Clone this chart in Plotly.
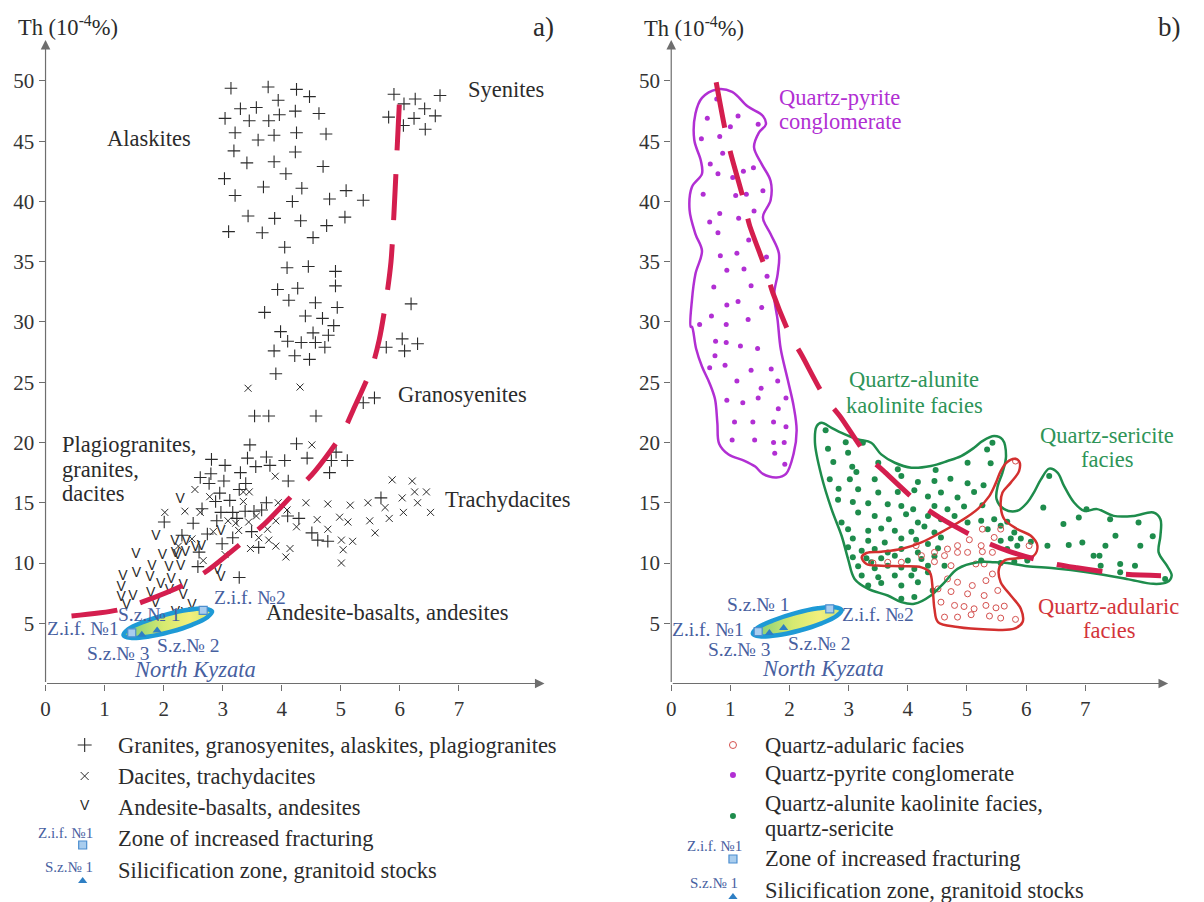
import plotly.graph_objects as go

# ---------------- Panel a data ----------------
granite_K = [3.14, 3.77, 4.25, 4.47, 3.94, 3.30, 3.57, 3.96, 4.23, 4.63, 3.04, 3.45, 3.78, 3.21, 3.60, 3.87, 4.25, 4.75,
             3.19, 4.23, 3.41, 3.87, 4.70, 4.07, 3.03, 3.69, 4.34, 5.09, 3.21, 4.18, 4.81, 5.38, 3.43, 3.88, 4.32, 5.07,
             4.76, 3.10, 3.67, 4.53, 4.05, 4.09, 4.45, 4.91, 3.93, 4.27, 4.91, 4.12, 4.57, 4.94, 3.71, 4.40, 4.69, 4.88,
             3.98, 4.53, 4.79, 4.10, 4.33, 4.57, 4.73,
             5.90, 6.07, 6.26, 6.68, 6.42, 5.81, 6.24, 6.60, 6.06, 6.43,
             6.19, 6.04, 6.30, 5.77,
             3.87, 4.22, 4.47, 6.08, 3.90, 5.38, 5.57, 3.54, 3.78, 4.58, 3.46, 4.25, 4.92, 4.84, 5.11, 4.81, 2.81, 3.04,
             3.42, 3.56, 3.74, 3.80, 4.05, 4.43, 2.62, 2.80, 3.30, 2.77, 3.02, 3.39, 3.28, 4.11, 2.95, 3.12, 2.88, 3.74,
             2.65, 2.97, 3.17, 3.38, 3.53, 3.66, 4.10, 4.29, 2.50, 2.90, 3.24, 2.01, 2.31, 2.74, 3.49, 4.51, 4.61, 4.78,
             2.99, 3.17, 2.60, 3.61, 2.58, 3.28, 5.68]
granite_Th = [49.4, 49.5, 49.3, 48.7, 48.4, 47.7, 47.8, 47.2, 47.5, 47.3, 46.9, 46.7, 46.7, 45.7, 45.1, 45.5, 45.7, 45.6,
              44.2, 44.1, 43.2, 43.3, 42.9, 42.3, 41.9, 41.2, 41.1, 40.9, 40.5, 40.0, 40.2, 40.1, 38.8, 38.6, 38.4, 38.7,
              38.0, 37.5, 37.4, 37.0, 36.2, 34.5, 34.6, 34.2, 32.7, 32.8, 33.0, 31.8, 31.6, 31.2, 30.8, 30.5, 30.3, 29.7,
              29.2, 29.1, 28.9, 28.4, 28.3, 28.3, 27.9,
              48.9, 48.1, 48.5, 48.8, 47.7, 47.0, 46.9, 47.1, 46.3, 46.0,
              31.5, 28.6, 28.2, 27.9,
              27.6, 27.2, 26.9, 27.6, 25.7, 23.3, 23.7, 22.2, 22.2, 22.2, 19.8, 19.9, 19.2, 18.5, 18.5, 17.5, 18.6, 18.1,
              18.7, 18.0, 18.8, 18.1, 18.5, 18.7, 17.1, 17.4, 17.5, 16.6, 16.8, 16.6, 16.1, 16.8, 15.8, 15.2, 15.1, 15.0,
              14.5, 14.2, 14.2, 14.3, 14.3, 14.4, 13.9, 13.7, 13.3, 13.5, 13.7, 13.4, 12.3, 12.4, 12.6, 12.5, 11.9, 11.8,
              11.6, 12.1, 10.9, 11.3, 9.7, 8.8, 15.4]

dacite_K = [3.43, 4.31, 4.51, 3.89, 5.87, 6.21, 6.25, 6.45, 6.04, 6.30, 6.52, 6.06, 5.75, 5.46, 5.16, 4.78, 4.41, 3.94,
            5.49, 5.82, 5.58, 4.98, 5.12, 4.60, 4.78, 4.25, 5.01, 5.20, 5.04, 5.01, 4.09, 3.90, 3.57, 3.76, 3.78, 3.90,
            4.14, 4.07, 3.47, 3.61, 3.44, 3.27, 3.35, 3.45, 3.35, 3.22, 3.09, 2.78, 2.53, 2.36, 2.02, 2.62, 2.48, 2.84,
            2.67, 3.04, 2.25]
dacite_Th = [24.5, 24.6, 19.8, 17.2, 16.9, 16.8, 15.9, 15.9, 15.4, 15.0, 14.2, 14.2, 14.6, 15.0, 14.8, 14.9, 15.0, 15.0,
             13.5, 13.7, 12.5, 13.8, 13.4, 13.6, 12.8, 13.0, 11.9, 11.8, 11.1, 10.0, 14.4, 13.5, 13.9, 12.8, 11.9, 11.4,
             11.2, 10.5, 11.2, 12.1, 13.4, 12.7, 15.9, 15.9, 15.1, 13.3, 13.5, 15.5, 16.1, 14.3, 14.2, 14.2, 12.0, 12.6,
             10.2, 10.7, 11.4]

andesite_K = [2.28, 2.19, 1.87, 2.20, 1.53, 1.31, 1.54, 1.80, 1.98, 2.09, 2.29, 2.13, 1.95, 1.77, 1.28, 1.48, 1.28, 1.37,
              1.78, 2.10, 2.33, 2.33, 2.48, 2.37, 2.20, 2.97, 2.91, 2.24, 2.37, 2.64, 2.97, 2.38, 2.54, 1.86]
andesite_Th = [15.3, 11.8, 12.2, 10.8, 10.7, 8.9, 9.1, 9.7, 10.6, 9.6, 9.7, 8.6, 8.2, 8.8, 8.0, 7.2, 7.1, 6.5,
               7.5, 7.7, 8.1, 7.3, 6.5, 5.8, 5.9, 8.8, 9.4, 10.6, 10.9, 11.4, 12.6, 11.8, 11.3, 6.6]

curve_a_K = [0.44, 1.23, 1.63, 2.35, 2.75, 3.38, 3.70, 4.25, 4.56, 5.02, 5.21, 5.53, 5.65, 5.77, 5.85, 5.90, 5.94, 5.97, 6.01]
curve_a_Th = [5.6, 6.1, 6.75, 8.2, 9.4, 11.9, 13.2, 16.0, 17.6, 20.7, 22.7, 26.3, 28.5, 31.9, 35.0, 39.0, 43.0, 46.0, 49.9]

kyz_a_K = [2.82, 2.74, 2.48, 2.11, 1.73, 1.44, 1.32, 1.40, 1.67, 2.04, 2.42, 2.70, 2.82]
kyz_a_Th = [5.98, 5.50, 4.87, 4.28, 3.88, 3.79, 4.02, 4.50, 5.13, 5.72, 6.12, 6.21, 5.98]
zif_a_K = [1.46, 2.67]
zif_a_Th = [4.2, 6.06]
sz_a_K = [1.63, 1.89]
sz_a_Th = [4.05, 4.4]

# ---------------- Panel b data ----------------
pyrite_K = [0.77, 0.61, 1.13, 1.47, 1.00, 0.51, 0.82, 0.87, 0.66, 0.79, 1.22, 1.04, 1.39, 0.54, 1.09, 1.27, 1.55, 0.82,
            1.40, 0.65, 1.14, 0.79, 1.31, 0.83, 1.11, 1.61, 0.94, 1.23, 1.62, 0.72, 1.35, 0.94, 1.13, 1.53, 0.48, 0.68,
            0.93, 1.30, 0.75, 0.93, 1.17,
            0.74, 1.46, 0.65, 0.91, 1.35, 1.69, 1.11, 1.52, 1.80, 0.94, 1.21, 1.47, 1.94, 1.81, 1.07, 1.38, 1.73, 1.94,
            1.03, 1.41, 1.73, 1.91, 1.75, 1.92]
pyrite_Th = [48.5, 46.9, 47.1, 46.4, 46.2, 45.2, 45.4, 44.0, 43.1, 42.3, 42.5, 42.0, 42.8, 40.6, 40.5, 40.6, 40.9, 39.0,
             39.2, 38.3, 38.6, 37.4, 36.8, 35.5, 35.7, 35.4, 34.3, 34.4, 33.8, 32.9, 33.0, 31.4, 31.7, 31.2, 29.8, 30.5,
             29.8, 30.2, 28.4, 28.3, 28.0,
             27.2, 27.8, 26.2, 26.4, 26.0, 26.1, 25.1, 24.5, 25.1, 23.5, 23.3, 23.7, 23.7, 22.8, 21.7, 21.7, 21.7, 21.3,
             20.2, 20.2, 20.0, 20.0, 19.1, 18.2]

alunite_K = [2.61, 2.95, 3.24, 2.65, 2.99, 2.74, 3.06, 3.50, 3.83, 5.43, 5.34, 5.40, 4.47, 5.01, 2.68, 3.13, 3.02, 3.44,
             3.89, 4.17, 4.45, 4.72, 5.01, 5.28, 2.83, 3.16, 3.50, 3.83, 4.11, 4.34, 4.56, 4.84, 5.12, 2.82, 3.07, 3.33,
             3.66, 3.89, 4.09, 4.45, 4.67, 4.95, 5.26, 2.88, 3.16, 3.44, 3.68, 3.97, 4.17, 4.34, 4.56, 4.79, 5.01, 5.24,
             5.46, 5.68, 2.99, 3.33, 3.55, 3.78, 4.06, 4.28, 4.45, 5.35, 5.57, 5.80, 3.07, 3.33, 3.61, 3.89, 4.14, 4.34,
             4.56, 5.57, 5.74, 5.91, 2.99, 3.22, 3.44, 3.66, 3.89, 4.17, 4.51, 5.68, 5.85, 6.08, 3.07, 3.30, 3.55, 3.78,
             4.00, 4.23, 4.45, 5.24, 5.57, 5.80, 6.02, 3.16, 3.44, 3.66, 3.89, 4.11, 4.34, 4.62, 3.22, 3.50, 3.78, 4.06,
             4.34, 3.33, 3.55, 3.89, 4.17, 4.42, 3.89, 4.11, 3.38,
             6.39, 6.29, 6.63, 6.89, 7.02, 7.42, 7.90, 6.36, 6.72, 6.95, 7.14, 7.34, 7.51, 7.93, 8.14, 7.24, 6.02, 7.26,
             7.59, 7.84, 8.35, 7.59]
alunite_Th = [21.02, 20.03, 19.98, 19.48, 19.15, 18.38, 17.99, 18.32, 17.77, 19.98, 19.42, 18.27, 17.72, 18.32, 16.94,
              17.55, 16.94, 16.94, 17.22, 16.72, 16.81, 17.0, 16.61, 16.45, 16.17, 16.12, 15.84, 15.90, 16.04, 15.51,
              15.84, 15.43, 15.90, 15.24, 15.07, 14.96, 14.88, 14.74, 14.47, 14.74, 14.47, 14.69, 14.80, 13.36, 14.19,
              13.91, 13.64, 14.05, 13.36, 13.91, 13.64, 13.91, 13.36, 13.50, 13.64, 13.42, 12.81, 12.68, 12.87, 12.68,
              12.59, 13.03, 12.54, 12.81, 13.09, 12.54, 12.04, 11.85, 11.71, 12.04, 11.93, 11.57, 12.12, 11.85, 12.04,
              12.04, 11.30, 11.02, 11.16, 10.88, 11.16, 10.88, 11.22, 11.16, 11.44, 11.77, 10.47, 10.39, 10.39, 10.61,
              10.20, 10.33, 10.55, 10.20, 10.00, 10.11, 10.39, 9.73, 9.56, 9.78, 9.62, 9.51, 9.78, 9.78, 8.96, 8.82,
              8.96, 8.96, 9.23, 8.13, 8.35, 8.13, 8.40, 7.72, 7.03, 7.17, 10.06,
              17.22, 14.60, 13.23, 13.78, 14.47, 13.64, 13.36, 11.44, 11.49, 11.71, 10.61, 11.44, 12.26, 11.44, 12.21,
              10.61, 10.20, 9.78, 9.92, 9.78, 8.68, 9.23]

adularic_K = [5.82, 5.57, 5.26, 5.46, 5.04, 4.84, 5.24, 6.05, 4.67, 4.45, 4.23, 3.89, 3.66, 3.41, 4.62, 4.84, 5.01, 5.26,
              4.45, 4.73, 5.15, 5.29, 5.43, 4.67, 4.84, 5.09, 5.32, 4.51, 4.73, 5.01, 5.29, 5.52, 4.56, 4.79, 4.95, 5.12,
              5.32, 5.49, 5.63, 4.62, 4.84, 5.07, 5.38, 5.57, 5.82, 4.14, 5.43]
adularic_Th = [18.46, 12.81, 12.81, 12.12, 11.93, 11.44, 11.44, 11.44, 11.16, 10.88, 10.61, 10.06, 10.06, 10.00, 10.61,
               10.88, 10.88, 10.94, 10.11, 9.78, 9.92, 9.92, 9.09, 8.68, 8.40, 8.13, 8.54, 7.85, 7.63, 7.44, 7.30, 7.72,
               6.75, 6.48, 6.39, 6.20, 6.48, 6.28, 6.42, 5.51, 5.51, 5.71, 5.60, 5.43, 5.32, 11.44, 10.88]

pyrite_outline_K = [0.77, 1.03, 1.29, 1.55, 1.60, 1.48, 1.40, 1.53, 1.68, 1.68, 1.55, 1.68, 1.82, 1.80, 1.74, 1.80, 1.85,
                    1.97, 2.07, 2.12, 2.07, 1.94, 1.78, 1.55, 1.42, 1.23, 0.97, 0.81, 0.78, 0.74, 0.65, 0.52, 0.42,
                    0.35, 0.33, 0.35, 0.41, 0.52, 0.41, 0.31, 0.35, 0.52, 0.50, 0.39, 0.41, 0.52, 0.77]
pyrite_outline_Th = [49.3, 49.1, 47.9, 47.1, 46.4, 45.7, 44.5, 43.1, 41.7, 40.1, 38.7, 37.3, 35.7, 34.0, 32.3, 30.1, 27.8,
                     25.2, 23.0, 21.0, 19.1, 17.4, 17.1, 17.4, 18.0, 18.5, 19.0, 19.9, 21.6, 23.6, 24.9, 26.3, 27.8,
                     29.6, 29.6, 31.8, 34.0, 35.9, 37.3, 39.3, 41.2, 42.3, 43.4, 45.1, 47.3, 48.6, 49.3]

green_outline_K = [2.46, 2.54, 2.71, 2.88, 3.16, 3.38, 3.55, 3.78, 4.06, 4.39, 4.67, 4.90, 5.12, 5.26, 5.46, 5.60, 5.66,
                   5.60, 5.52, 5.50, 5.63, 5.85, 6.02, 6.13, 6.25, 6.39, 6.53, 6.64, 6.81, 6.98, 7.20, 7.48, 7.82, 8.15,
                   8.27, 8.27, 8.24, 8.38, 8.46, 8.38, 8.15, 7.70, 7.03, 6.47, 6.02, 5.68, 5.46, 5.18, 4.84, 4.62, 4.39,
                   4.11, 3.89, 3.66, 3.33, 3.10, 2.99, 2.88, 2.71, 2.54, 2.43, 2.46]
green_outline_Th = [21.35, 21.63, 21.22, 20.80, 20.25, 19.98, 19.01, 18.32, 17.91, 18.05, 18.46, 18.87, 19.56, 20.11,
                    20.53, 20.25, 18.87, 17.50, 16.40, 15.30, 14.47, 14.33, 15.02, 15.84, 16.94, 17.83, 17.50, 16.40,
                    15.02, 14.33, 14.47, 13.91, 13.91, 14.19, 13.64, 12.26, 10.88, 9.78, 8.96, 8.40, 8.27, 8.68, 9.23,
                    9.56, 9.73, 10.00, 10.06, 10.06, 9.51, 8.40, 7.30, 6.61, 6.75, 7.30, 7.85, 8.68, 10.33, 12.26,
                    14.47, 17.22, 19.98, 21.35]

red_outline_K = [5.80, 5.88, 5.88, 5.74, 5.60, 5.57, 5.63, 5.85, 6.08, 6.19, 6.13, 5.85, 5.63, 5.54, 5.57, 5.74, 5.91,
                 5.94, 5.80, 5.35, 4.84, 4.51, 4.45, 4.42, 4.37, 4.23, 3.89, 3.55, 3.30, 3.22, 3.30, 3.55, 3.89, 4.23,
                 4.56, 4.90, 5.18, 5.38, 5.49, 5.57, 5.68, 5.80]
red_outline_Th = [18.65, 18.46, 17.63, 16.67, 15.84, 14.74, 13.64, 12.81, 12.26, 11.44, 10.61, 10.39, 10.20, 9.51, 8.40,
                  7.30, 6.20, 5.10, 4.55, 4.49, 4.69, 5.10, 6.20, 7.85, 9.23, 9.64, 9.73, 9.78, 9.92, 10.47, 10.83,
                  10.94, 11.16, 11.71, 12.54, 13.50, 14.47, 15.57, 16.67, 17.63, 18.38, 18.65]

curve_b_K = [0.76, 0.91, 1.01, 1.22, 1.32, 1.58, 1.72, 2.01, 2.20, 2.59, 2.85, 3.30, 3.62, 4.20, 4.56, 5.24, 5.69, 6.40,
             6.86, 7.60, 8.28]
curve_b_Th = [49.9, 46.0, 43.9, 40.2, 38.1, 34.6, 32.4, 28.9, 27.3, 23.8, 22.2, 19.0, 17.5, 14.9, 13.7, 11.9, 11.0, 10.0,
              9.6, 9.1, 8.95]

kyz_b_K = [2.88, 2.80, 2.54, 2.17, 1.79, 1.50, 1.38, 1.46, 1.73, 2.10, 2.48, 2.76, 2.88]
kyz_b_Th = [6.10, 5.62, 4.99, 4.40, 4.00, 3.91, 4.14, 4.62, 5.25, 5.84, 6.24, 6.33, 6.10]
zif_b_K = [1.47, 2.68]
zif_b_Th = [4.3, 6.2]
sz_b_K = [1.66, 1.90]
sz_b_Th = [4.2, 4.6]

x_ticks = [0, 1, 2, 3, 4, 5, 6, 7]
y_ticks = [5, 10, 15, 20, 25, 30, 35, 40, 45, 50]

# ---------------- styles ----------------
SERIF = "Liberation Serif, Times New Roman, Times, DejaVu Serif, serif"
INK = "#2b2b2b"
AX = "#6e6e6e"
DASH_RED = "#D41E4E"
PURPLE = "#B12FD3"
GREEN = "#1E8C4C"
GREEN_T = "#2E9457"
RED = "#D3343A"
ADU = "#D4504E"
BLUE_T = "#47609F"
KYZ_LINE = "#1E9AD6"
FS = 22.5      # main text size
FS_BLUE = 19.5
V_FONT = dict(family="Liberation Sans, Arial, sans-serif", size=14, color=INK)

fig = go.Figure()


def scatter(x, y, axes, **kw):
    fig.add_trace(go.Scatter(x=x, y=y, xaxis=axes[0], yaxis=axes[1], showlegend=False,
                             hoverinfo="skip", cliponaxis=False, **kw))


A = ("x", "y")
B = ("x2", "y2")
P = ("x3", "y3")

# Panel a points
scatter(granite_K, granite_Th, A, mode="markers",
        marker=dict(symbol="cross-thin", size=9, line=dict(color=INK, width=1.1)))
scatter(dacite_K, dacite_Th, A, mode="markers",
        marker=dict(symbol="x-thin", size=7, line=dict(color=INK, width=1.0)))
scatter(andesite_K, andesite_Th, A, mode="text", text=["V"] * len(andesite_K), textfont=V_FONT)
scatter(curve_a_K, curve_a_Th, A, mode="lines",
        line=dict(color=DASH_RED, width=5, dash="46px,24px", shape="spline", smoothing=0.8))

GRAD = dict(type="horizontal", colorscale=[[0, "#7CCB78"], [0.45, "#D6EA70"], [0.75, "#F2EF7C"], [1, "#CFE676"]])


def kyzata(kx, ky, zx, zy, sx, sy, axes):
    scatter(kx, ky, axes, mode="lines", fill="toself", fillgradient=GRAD,
            line=dict(color=KYZ_LINE, width=4.5, shape="spline", smoothing=1.0))
    scatter(zx, zy, axes, mode="markers",
            marker=dict(symbol="square", size=8, color="#A9CDEE", line=dict(color="#4C8ECF", width=1.2)))
    scatter(sx, sy, axes, mode="markers",
            marker=dict(symbol="triangle-up", size=8, color="#2E7FC4"))


kyzata(kyz_a_K, kyz_a_Th, zif_a_K, zif_a_Th, sz_a_K, sz_a_Th, A)

# Panel b
scatter(pyrite_K, pyrite_Th, B, mode="markers", marker=dict(size=5, color=PURPLE))
scatter(alunite_K, alunite_Th, B, mode="markers", marker=dict(size=6, color=GREEN))
scatter(adularic_K, adularic_Th, B, mode="markers",
        marker=dict(symbol="circle-open", size=6, color=ADU, line=dict(color=ADU, width=1)))
scatter(pyrite_outline_K, pyrite_outline_Th, B, mode="lines",
        line=dict(color=PURPLE, width=2.5, shape="spline", smoothing=1.0))
scatter(green_outline_K, green_outline_Th, B, mode="lines",
        line=dict(color=GREEN, width=2.5, shape="spline", smoothing=1.0))
scatter(red_outline_K, red_outline_Th, B, mode="lines",
        line=dict(color="#D3302F", width=2.5, shape="spline", smoothing=1.0))
scatter(curve_b_K, curve_b_Th, B, mode="lines",
        line=dict(color=DASH_RED, width=5, dash="46px,24px", shape="spline", smoothing=0.8))
kyzata(kyz_b_K, kyz_b_Th, zif_b_K, zif_b_Th, sz_b_K, sz_b_Th, B)

# ---------------- legends (pixel overlay axis) ----------------
scatter([80], [745], P, mode="markers", marker=dict(symbol="cross-thin", size=10, line=dict(color=INK, width=1.1)))
scatter([80], [776], P, mode="markers", marker=dict(symbol="x-thin", size=8, line=dict(color=INK, width=1.0)))
scatter([80], [806], P, mode="text", text=["V"], textfont=V_FONT)
scatter([731], [745], P, mode="markers",
        marker=dict(symbol="circle-open", size=7, color=ADU, line=dict(color=ADU, width=1)))
scatter([731], [775], P, mode="markers", marker=dict(size=6, color=PURPLE))
scatter([731], [816], P, mode="markers", marker=dict(size=6, color=GREEN))
for (sx, sq_y, tri_y) in [(78, 845, 881), (731, 859, 897)]:
    scatter([sx], [sq_y], P, mode="markers",
            marker=dict(symbol="square", size=8, color="#A9CDEE", line=dict(color="#4C8ECF", width=1.2)))
    scatter([sx], [tri_y], P, mode="markers", marker=dict(symbol="triangle-up", size=8, color="#2E7FC4"))

ann = []


def txt(text, x, y, xref, yref, size=FS, color=INK, xanchor="center", yanchor="middle", family=SERIF):
    ann.append(dict(text=text, x=x, y=y, xref=xref, yref=yref, showarrow=False, xanchor=xanchor,
                    yanchor=yanchor, font=dict(family=family, size=size, color=color)))


# legend texts panel a
for t, y in [("Granites, granosyenites, alaskites, plagiogranites", 745), ("Dacites, trachydacites", 776),
             ("Andesite-basalts, andesites", 807), ("Zone of increased fracturing", 838),
             ("Silicification zone, granitoid stocks", 870)]:
    txt(t, 111, y, "x3", "y3", xanchor="left")
txt("Z.i.f. №1", 61, 833, "x3", "y3", size=15, color=BLUE_T)
txt("S.z.№ 1", 64, 867, "x3", "y3", size=15, color=BLUE_T)
# legend texts panel b
for t, y in [("Quartz-adularic facies", 745), ("Quartz-pyrite conglomerate", 773),
             ("Quartz-alunite kaolinite facies,", 803), ("quartz-sericite", 828),
             ("Zone of increased fracturing", 858), ("Silicification zone, granitoid stocks", 890)]:
    txt(t, 761, y, "x3", "y3", xanchor="left")
txt("Z.i.f. №1", 712, 846, "x3", "y3", size=15, color=BLUE_T)
txt("S.z.№ 1", 712, 883, "x3", "y3", size=15, color=BLUE_T)

# titles
txt("Th (10<sup>-4</sup>%)", 11, 26, "x3", "y3", size=FS, xanchor="left")
txt("Th (10<sup>-4</sup>%)", 640, 27, "x3", "y3", size=FS, xanchor="left")
txt("a)", 553, 27, "x3", "y3", size=27, xanchor="right")
txt("b)", 1183, 27, "x3", "y3", size=27, xanchor="right")

# panel a labels
txt("Alaskites", 1.75, 45.2, "x", "y")
txt("Syenites", 7.79, 49.3, "x", "y")
txt("Granosyenites", 7.06, 24.0, "x", "y")
txt("Trachydacites", 7.83, 15.3, "x", "y")
txt("Andesite-basalts, andesites", 5.79, 5.86, "x", "y")
txt("Plagiogranites,", 0.24, 19.85, "x", "y", xanchor="left")
txt("granites,", 0.24, 17.76, "x", "y", xanchor="left")
txt("dacites", 0.24, 15.75, "x", "y", xanchor="left")
txt("K (%)", 9.06, 1.7, "x", "y", xanchor="right")
txt("Z.i.f. №1", 1.27, 4.55, "x", "y", size=FS_BLUE, color=BLUE_T, xanchor="right")
txt("S.z.№ 1", 1.75, 5.7, "x", "y", size=FS_BLUE, color=BLUE_T)
txt("S.z.№ 3", 1.22, 2.48, "x", "y", size=FS_BLUE, color=BLUE_T)
txt("S.z.№ 2", 2.41, 3.14, "x", "y", size=FS_BLUE, color=BLUE_T)
txt("Z.i.f. №2", 3.47, 7.1, "x", "y", size=FS_BLUE, color=BLUE_T)
txt("<i>North Kyzata</i>", 2.53, 1.16, "x", "y", size=FS, color=BLUE_T)

# panel b labels
txt("Quartz-pyrite", 2.85, 48.65, "x2", "y2", color=PURPLE)
txt("conglomerate", 2.85, 46.66, "x2", "y2", color=PURPLE)
txt("Quartz-alunite", 4.11, 25.2, "x2", "y2", color=GREEN_T)
txt("kaolinite facies", 4.12, 23.1, "x2", "y2", color=GREEN_T)
txt("Quartz-sericite", 7.37, 20.6, "x2", "y2", color=GREEN_T)
txt("facies", 7.37, 18.6, "x2", "y2", color=GREEN_T)
txt("Quartz-adularic", 7.40, 6.42, "x2", "y2", color=RED)
txt("facies", 7.40, 4.39, "x2", "y2", color=RED)
txt("K (%)", 8.85, 1.8, "x2", "y2", xanchor="right")
txt("Z.i.f. №1", 1.27, 4.47, "x2", "y2", size=FS_BLUE, color=BLUE_T, xanchor="right")
txt("S.z.№ 1", 1.46, 6.56, "x2", "y2", size=FS_BLUE, color=BLUE_T)
txt("S.z.№ 3", 1.15, 2.8, "x2", "y2", size=FS_BLUE, color=BLUE_T)
txt("S.z.№ 2", 2.49, 3.36, "x2", "y2", size=FS_BLUE, color=BLUE_T)
txt("Z.i.f. №2", 3.50, 5.72, "x2", "y2", size=FS_BLUE, color=BLUE_T)
txt("<i>North Kyzata</i>", 2.56, 1.21, "x2", "y2", size=FS, color=BLUE_T)

# axis arrows
for xr, yr, xmax in [("x", "y", 8.45), ("x2", "y2", 8.4)]:
    ann.append(dict(x=xmax, y=0, ax=0, ay=0, xref=xr, yref=yr, axref=xr, ayref=yr, text="", showarrow=True,
                    arrowhead=2, arrowsize=1.6, arrowwidth=1.2, arrowcolor=AX, standoff=0, startstandoff=0))
    ann.append(dict(x=0, y=53.4, ax=0, ay=0, xref=xr, yref=yr, axref=xr, ayref=yr, text="", showarrow=True,
                    arrowhead=2, arrowsize=1.6, arrowwidth=1.2, arrowcolor=AX, standoff=0, startstandoff=0))

tickfont = dict(family=SERIF, size=21, color="#333")
common_x = dict(range=[0, 8.5], tickvals=x_ticks, ticks="outside", ticklen=6, tickcolor=AX, tickwidth=1,
                showgrid=False, zeroline=False, showline=False, tickfont=tickfont, fixedrange=True)
common_y = dict(range=[0, 53.5], tickvals=y_ticks, ticks="outside", ticklen=6, tickcolor=AX, tickwidth=1,
                showgrid=False, zeroline=False, showline=False, tickfont=tickfont, fixedrange=True)

fig.update_layout(
    width=1204, height=902, margin=dict(l=0, r=0, t=0, b=0),
    paper_bgcolor="white", plot_bgcolor="rgba(0,0,0,0)",
    xaxis=dict(domain=[40.7 / 1204, (40.7 + 8.5 * 59.3) / 1204], anchor="y", **common_x),
    yaxis=dict(domain=[(902 - 683.5) / 902, (902 - 38.8) / 902], anchor="x", **common_y),
    xaxis2=dict(domain=[669 / 1204, (669 + 8.5 * 59.4) / 1204], anchor="y2", **common_x),
    yaxis2=dict(domain=[(902 - 683.5) / 902, (902 - 38.8) / 902], anchor="x2", **common_y),
    xaxis3=dict(domain=[0, 1], range=[0, 1204], visible=False, anchor="y3", fixedrange=True),
    yaxis3=dict(domain=[0, 1], range=[902, 0], visible=False, anchor="x3", fixedrange=True),
    annotations=ann,
    showlegend=False,
)

fig.write_html("out.html", config={"displayModeBar": False},
               post_script="document.body.style.margin='0px';document.body.style.overflow='hidden';")
